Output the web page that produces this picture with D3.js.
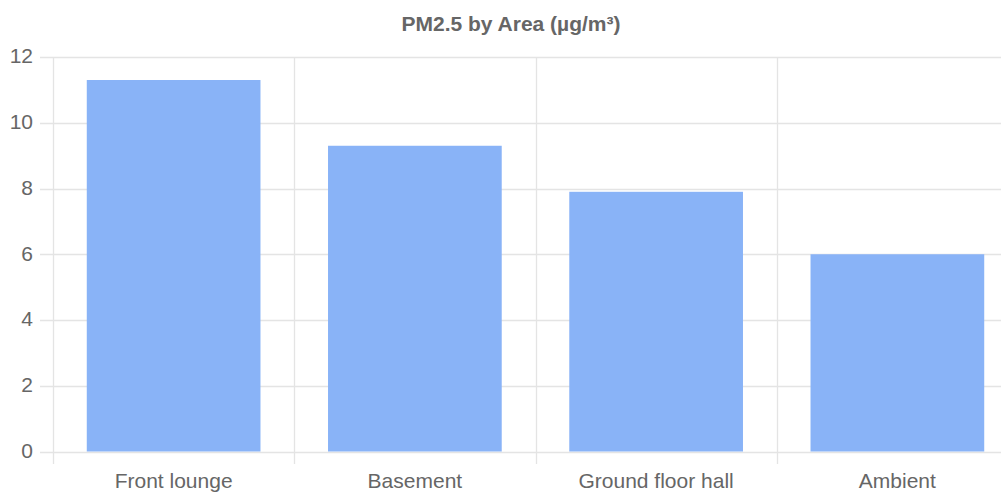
<!DOCTYPE html>
<html><head><meta charset="utf-8">
<script src="https://cdn.jsdelivr.net/npm/d3@7"></script>
<style>body{margin:0;background:#fff}svg{display:block}</style>
</head><body>
<svg id="c" width="1001" height="495"></svg>
<script>
const categories = ["Front lounge", "Basement", "Ground floor hall", "Ambient"];
const values = [11.3, 9.3, 7.9, 6.0];
const yTicks = [0, 2, 4, 6, 8, 10, 12];
const title = "PM2.5 by Area (µg/m³)";

(function () {
const svg = d3.select("#c");
const mLeft = 53, mRight = 1018, mTop = 57, mBottom = 451.5;
const x = d3.scaleBand().domain(categories).range([mLeft, mRight]).paddingInner(0.28).paddingOuter(0.14);
const y = d3.scaleLinear().domain([0, 12]).range([mBottom, mTop]);
const grid = "#e4e4e4";
const font = "'Liberation Sans', Arial, sans-serif";

svg.append("g").selectAll("line").data(yTicks).join("line")
  .attr("x1", 40).attr("x2", 1001)
  .attr("y1", d => Math.round(y(d)) + 0.5).attr("y2", d => Math.round(y(d)) + 0.5)
  .attr("stroke", grid).attr("stroke-width", 1.3);
const bounds = categories.map(c => x(c) - x.step() * 0.14);
svg.append("g").selectAll("line").data(bounds).join("line")
  .attr("x1", d => Math.round(d) + 0.5).attr("x2", d => Math.round(d) + 0.5)
  .attr("y1", mTop).attr("y2", 464)
  .attr("stroke", grid).attr("stroke-width", 1.3);

svg.append("g").selectAll("rect").data(values).join("rect")
  .attr("x", (d, i) => x(categories[i]))
  .attr("width", x.bandwidth())
  .attr("y", d => y(d))
  .attr("height", d => y(0) - y(d))
  .attr("fill", "#89b3f7");

svg.append("g").selectAll("text").data(yTicks).join("text")
  .attr("x", 33).attr("y", d => y(d)).attr("dy", "0.3em")
  .attr("text-anchor", "end").attr("fill", "#666").attr("font-family", font).attr("font-size", 21)
  .text(d => d);

svg.append("g").selectAll("text").data(categories).join("text")
  .attr("x", d => x(d) + x.bandwidth() / 2).attr("y", 488)
  .attr("text-anchor", "middle").attr("fill", "#666").attr("font-family", font).attr("font-size", 21)
  .text(d => d);

svg.append("text").attr("x", 511).attr("y", 31).attr("text-anchor", "middle")
  .attr("fill", "#666").attr("font-family", font).attr("font-size", 21).attr("font-weight", "bold")
  .text(title);
})();
</script>
</body></html>
